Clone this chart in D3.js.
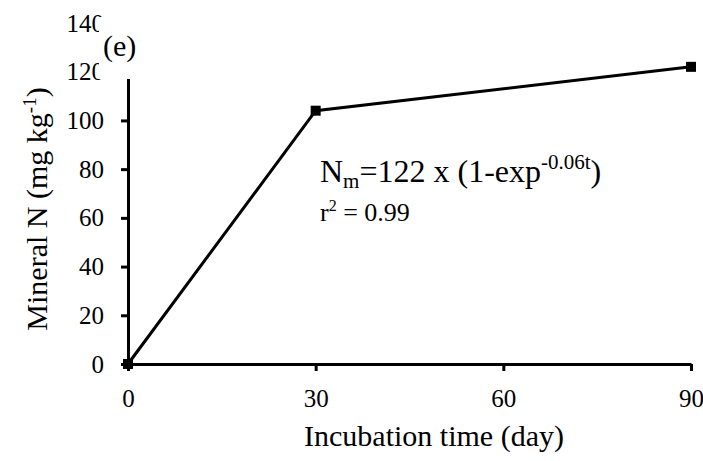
<!DOCTYPE html>
<html>
<head>
<meta charset="utf-8">
<script src="https://cdn.jsdelivr.net/npm/d3@7"></script>
<style>
  body { margin: 0; background: #fff; }
</style>
</head>
<body>
<div id="chart"></div>
<script>
const days = [0, 30, 90]
const mineralN = [0, 104, 122]
const xTicks = [0, 30, 60, 90]
const yTicks = [0, 20, 40, 60, 80, 100, 120, 140]

const width = 703
const height = 461
const serif = "'Liberation Serif', 'Times New Roman', serif"

let svg = d3.select("#chart").append("svg")
    .attr("width", width)
    .attr("height", height)
    .style("font-family", serif)

let x = d3.scaleLinear().domain([0, 90]).range([128, 691])
let y = d3.scaleLinear().domain([0, 140]).range([364, 23])

// y axis
let yAxis = svg.append("g")
    .attr("transform", "translate(" + x(0) + ",0)")
    .call(d3.axisLeft(y).tickValues(yTicks).tickSize(7).tickSizeOuter(0).tickPadding(17))
yAxis.attr("font-family", null)
yAxis.select(".domain").attr("stroke-width", 3)
yAxis.selectAll(".tick line").attr("stroke-width", 3)
yAxis.selectAll(".tick text").style("font-size", "25px").style("font-family", serif)

// x axis
let xAxis = svg.append("g")
    .attr("transform", "translate(0," + y(0) + ")")
    .call(d3.axisBottom(x).tickValues(xTicks).tickSize(7).tickSizeOuter(0).tickPadding(18))
xAxis.attr("font-family", null)
xAxis.select(".domain").attr("stroke-width", 3)
xAxis.selectAll(".tick line").attr("stroke-width", 3)
xAxis.selectAll(".tick text").style("font-size", "25px").style("font-family", serif)

// data line + square markers
let line = d3.line().x((d, i) => x(days[i])).y(d => y(d))
svg.append("path")
    .datum(mineralN)
    .attr("fill", "none")
    .attr("stroke", "#000")
    .attr("stroke-width", 3)
    .attr("d", line)

svg.selectAll("rect.marker")
    .data(mineralN)
    .enter().append("rect")
    .attr("class", "marker")
    .attr("x", (d, i) => x(days[i]) - 5)
    .attr("y", d => y(d) - 5)
    .attr("width", 10)
    .attr("height", 10)
    .attr("fill", "#000")

// panel label with white box over the top of the axis
svg.append("rect")
    .attr("x", 99)
    .attr("y", 17)
    .attr("width", 62)
    .attr("height", 62)
    .attr("fill", "#fff")
svg.append("text")
    .attr("x", 103)
    .attr("y", 56)
    .style("font-family", serif)
    .style("font-size", "30px")
    .text("(e)")

// equation
let eq = svg.append("text")
    .attr("x", 320)
    .attr("y", 182)
    .style("font-family", serif)
    .style("font-size", "32px")
eq.append("tspan").text("N")
eq.append("tspan").attr("dy", 6).style("font-size", "21px").text("m")
eq.append("tspan").attr("dy", -6).text("=122 x (1-exp")
eq.append("tspan").attr("dy", -13).style("font-size", "21px").text("-0.06t")
eq.append("tspan").attr("dy", 13).text(")")

let r2 = svg.append("text")
    .attr("x", 320)
    .attr("y", 221)
    .style("font-family", serif)
    .style("font-size", "26px")
r2.append("tspan").text("r")
r2.append("tspan").attr("dy", -10).style("font-size", "16px").text("2")
r2.append("tspan").attr("dy", 10).text(" = 0.99")

// axis titles
svg.append("text")
    .attr("x", 434)
    .attr("y", 446)
    .attr("text-anchor", "middle")
    .style("font-family", serif)
    .style("font-size", "30px")
    .text("Incubation time (day)")

let yt = svg.append("text")
    .attr("transform", "translate(47,209) rotate(-90)")
    .attr("text-anchor", "middle")
    .style("font-family", serif)
    .style("font-size", "30px")
yt.append("tspan").text("Mineral N (mg kg")
yt.append("tspan").attr("dy", -11).style("font-size", "19px").text("-1")
yt.append("tspan").attr("dy", 11).text(")")
</script>
</body>
</html>
